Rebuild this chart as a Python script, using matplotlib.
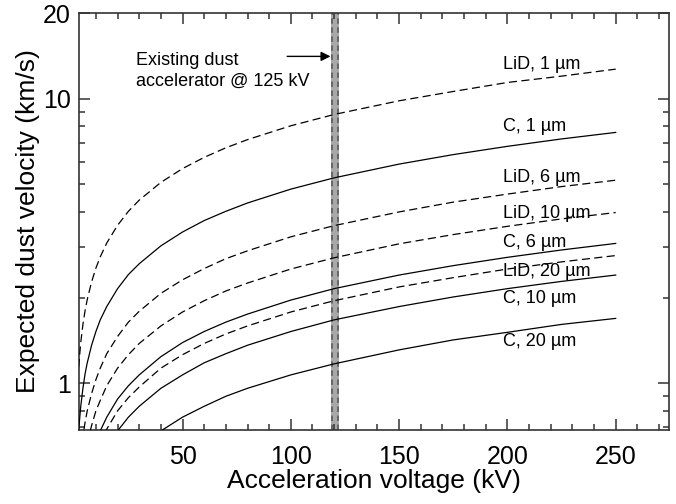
import matplotlib
matplotlib.use("Agg")
import matplotlib.pyplot as plt
from matplotlib.ticker import FixedLocator, NullFormatter

plt.rcParams['font.family'] = ['Liberation Sans', 'DejaVu Sans']

# acceleration voltage (kV) where the curves were read
volt = [2, 3, 4, 5, 6, 8, 10, 12, 15, 20, 25, 30, 40, 50, 60, 70, 80,
        100, 120, 150, 175, 200, 225, 250]

# expected dust velocity (km/s)
lid_1 = [1.14, 1.39, 1.61, 1.80, 1.97, 2.27, 2.54, 2.78, 3.11, 3.59, 4.02, 4.40,
         5.08, 5.68, 6.22, 6.72, 7.18, 8.03, 8.80, 9.83, 10.6, 11.4, 12.0, 12.7]
c_1 = [0.68, 0.83, 0.96, 1.08, 1.18, 1.36, 1.52, 1.67, 1.86, 2.15, 2.41, 2.63,
       3.04, 3.40, 3.73, 4.02, 4.30, 4.81, 5.27, 5.89, 6.36, 6.80, 7.22, 7.61]
lid_6 = [0.46, 0.57, 0.65, 0.73, 0.80, 0.92, 1.03, 1.13, 1.27, 1.46, 1.64, 1.79,
         2.07, 2.31, 2.53, 2.74, 2.92, 3.27, 3.58, 4.00, 4.33, 4.62, 4.91, 5.17]
lid_10 = [0.36, 0.44, 0.50, 0.56, 0.62, 0.71, 0.80, 0.87, 0.98, 1.13, 1.26, 1.38,
          1.59, 1.78, 1.95, 2.11, 2.25, 2.52, 2.76, 3.09, 3.33, 3.56, 3.78, 3.98]
c_6 = [0.28, 0.34, 0.39, 0.44, 0.48, 0.55, 0.62, 0.68, 0.76, 0.88, 0.98, 1.07,
       1.24, 1.39, 1.52, 1.64, 1.75, 1.96, 2.15, 2.40, 2.59, 2.77, 2.94, 3.10]
lid_20 = [0.25, 0.31, 0.36, 0.40, 0.44, 0.50, 0.56, 0.62, 0.69, 0.80, 0.89, 0.97,
          1.13, 1.26, 1.38, 1.49, 1.59, 1.78, 1.95, 2.18, 2.35, 2.52, 2.67, 2.81]
c_10 = [0.21, 0.26, 0.30, 0.34, 0.37, 0.43, 0.48, 0.53, 0.59, 0.68, 0.76, 0.83,
        0.96, 1.07, 1.18, 1.27, 1.36, 1.52, 1.67, 1.86, 2.01, 2.15, 2.28, 2.40]
c_20 = [0.15, 0.19, 0.21, 0.24, 0.26, 0.30, 0.34, 0.37, 0.41, 0.48, 0.54, 0.59,
        0.68, 0.76, 0.83, 0.90, 0.96, 1.07, 1.17, 1.31, 1.42, 1.51, 1.61, 1.69]

curves = [
    ("LiD, 1 \u00b5m", lid_1, "--", 12.75),
    ("C, 1 \u00b5m", c_1, "-", 7.72),
    ("LiD, 6 \u00b5m", lid_6, "--", 5.11),
    ("LiD, 10 \u00b5m", lid_10, "--", 3.82),
    ("C, 6 \u00b5m", c_6, "-", 3.02),
    ("LiD, 20 \u00b5m", lid_20, "--", 2.39),
    ("C, 10 \u00b5m", c_10, "-", 1.92),
    ("C, 20 \u00b5m", c_20, "-", 1.35),
]

fig = plt.figure(figsize=(6.76, 5.04), dpi=100)
ax = fig.add_axes([0.1169, 0.1468, 0.8727, 0.8274])

# existing accelerator band
ax.axvspan(118.6, 122.3, color='#a8a8a8', lw=0, zorder=1)
for xv in (119.2, 121.7):
    ax.axvline(xv, color='#606060', lw=1.3, ls=(0, (3, 2)), zorder=2)

for name, vals, ls, ylab in curves:
    if ls == "--":
        ax.plot(volt, vals, color='black', lw=0.9, ls=(0, (6.5, 3.5)), zorder=3)
    else:
        ax.plot(volt, vals, color='black', lw=0.9, zorder=3)
    ax.text(198, ylab, name, fontsize=13, ha='left', va='baseline', zorder=4)

ax.text(28.6, 13.15, "Existing dust", fontsize=13, ha='left', va='baseline')
ax.text(28.6, 11.07, "accelerator @ 125 kV", fontsize=13, ha='left', va='baseline')
ax.annotate("", xy=(118.3, 14.08), xytext=(98.3, 14.08),
            arrowprops=dict(arrowstyle='-|>', color='black', lw=1,
                            mutation_scale=14, shrinkA=0, shrinkB=0))

ax.set_yscale('log')
ax.set_xlim(2.2, 274.6)
ax.set_ylim(0.685, 20)

ax.xaxis.set_major_locator(FixedLocator([50, 100, 150, 200, 250]))
ax.xaxis.set_minor_locator(FixedLocator([v for v in range(10, 275, 10) if v % 50 != 0]))
ax.yaxis.set_major_locator(FixedLocator([1, 10, 20]))
ax.yaxis.set_minor_locator(FixedLocator([0.7, 0.8, 0.9, 2, 3, 4, 5, 6, 7, 8, 9]))
ax.yaxis.set_minor_formatter(NullFormatter())
ax.set_yticklabels(["1", "10", "20"])

ax.tick_params(which='both', direction='in', top=True, right=True,
               color='#333333', width=1.1, labelsize=18)
ax.tick_params(which='major', length=8)
ax.tick_params(which='minor', length=4.5)
ax.tick_params(axis='x', pad=11)
ax.tick_params(axis='y', pad=6)

for sp in ax.spines.values():
    sp.set_color('#333333')
    sp.set_linewidth(1.2)

ax.set_xlabel("Acceleration voltage (kV)", fontsize=19, labelpad=0)
ax.set_ylabel("Expected dust velocity (km/s)", fontsize=19, labelpad=2)

fig.savefig("out.png", dpi=100)
